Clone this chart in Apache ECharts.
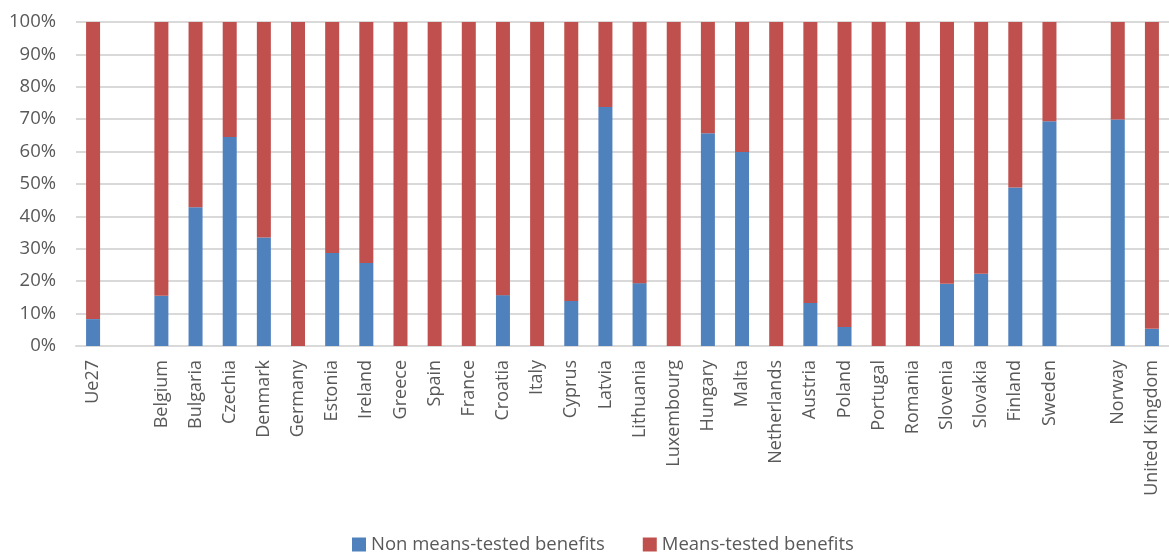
<!DOCTYPE html>
<html>
<head>
<meta charset="utf-8">
<script src="https://cdn.jsdelivr.net/npm/echarts@6/dist/echarts.min.js"></script>
<style>
  html, body { margin: 0; padding: 0; background: #fff; }
  #chart { width: 1169px; height: 555px; }
</style>
</head>
<body>
<div id="chart"></div>
<script>
// Countries (empty strings leave a gap between groups)
const categories = [
  'Ue27', '', 'Belgium', 'Bulgaria', 'Czechia', 'Denmark', 'Germany', 'Estonia',
  'Ireland', 'Greece', 'Spain', 'France', 'Croatia', 'Italy', 'Cyprus', 'Latvia',
  'Lithuania', 'Luxembourg', 'Hungary', 'Malta', 'Netherlands', 'Austria', 'Poland',
  'Portugal', 'Romania', 'Slovenia', 'Slovakia', 'Finland', 'Sweden', '', 'Norway',
  'United Kingdom'
];

// Share of non means-tested benefits, in %
const nonMeansTested = [
  8.3, null, 15.5, 42.8, 64.5, 33.5, 0, 28.7,
  25.6, 0, 0, 0, 15.7, 0, 13.9, 73.8,
  19.4, 0, 65.7, 59.9, 0, 13.3, 5.9,
  0, 0, 19.2, 22.3, 48.9, 69.4, null, 69.9,
  5.3
];

// Share of means-tested benefits, in %
const meansTested = [
  91.7, null, 84.5, 57.2, 35.5, 66.5, 100, 71.3,
  74.4, 100, 100, 100, 84.3, 100, 86.1, 26.2,
  80.6, 100, 34.3, 40.1, 100, 86.7, 94.1,
  100, 100, 80.8, 77.7, 51.1, 30.6, null, 30.1,
  94.7
];

const yTicks = [0, 10, 20, 30, 40, 50, 60, 70, 80, 90, 100];

const textColor = '#595959';
const fontFamily = '"Open Sans", "Liberation Sans", sans-serif';

const chart = echarts.init(document.getElementById('chart'), null, { renderer: 'canvas' });

chart.setOption({
  animation: false,
  textStyle: { fontFamily: fontFamily },
  grid: { left: 76, right: -8, top: 22, bottom: 209, containLabel: false },
  legend: {
    bottom: -4,
    left: 347,
    itemWidth: 14,
    itemHeight: 14,
    itemGap: 38,
    icon: 'rect',
    textStyle: { color: textColor, fontSize: 18.5, fontFamily: fontFamily },
    data: ['Non means-tested benefits', 'Means-tested benefits']
  },
  xAxis: {
    type: 'category',
    data: categories,
    axisLine: { show: true, lineStyle: { color: '#d9d9d9', width: 2 } },
    axisTick: { show: false },
    axisLabel: {
      rotate: 90,
      interval: 0,
      color: textColor,
      fontSize: 18,
      margin: 14,
      fontFamily: fontFamily
    }
  },
  yAxis: {
    type: 'value',
    min: yTicks[0],
    max: yTicks[yTicks.length - 1],
    interval: 10,
    axisLine: { show: false },
    axisTick: { show: false },
    splitLine: { lineStyle: { color: '#d9d9d9', width: 2 } },
    axisLabel: {
      formatter: '{value}%',
      color: textColor,
      fontSize: 18.5,
      margin: 20,
      fontFamily: fontFamily
    }
  },
  series: [
    {
      name: 'Non means-tested benefits',
      type: 'bar',
      stack: 'total',
      barWidth: 14,
      itemStyle: { color: '#4F81BD' },
      data: nonMeansTested
    },
    {
      name: 'Means-tested benefits',
      type: 'bar',
      stack: 'total',
      barWidth: 14,
      itemStyle: { color: '#C0504D' },
      data: meansTested
    }
  ]
});
</script>
</body>
</html>
